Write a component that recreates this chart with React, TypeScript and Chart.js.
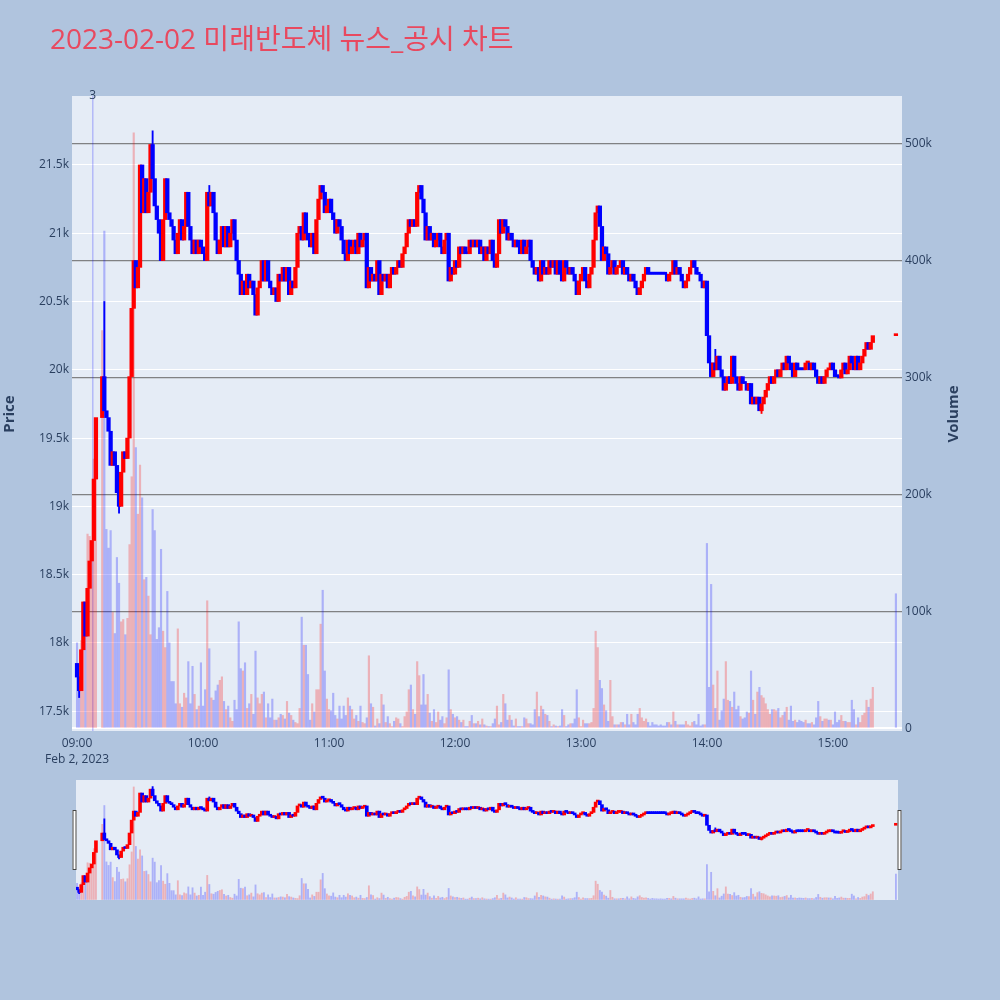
import React, { useEffect, useRef } from "react";
import { Chart, registerables } from "chart.js";

Chart.register(...registerables);

const TITLE = "2023-02-02 미래반도체 뉴스_공시 차트";
const DATE_LABEL = "Feb 2, 2023";
const PRICE_TITLE = "Price";
const VOLUME_TITLE = "Volume";

// x values are minutes after 09:00
const hourTicks = [0, 60, 120, 180, 240, 300, 360];
const hourLabels = ["09:00", "10:00", "11:00", "12:00", "13:00", "14:00", "15:00"];
const priceTicks = [17500, 18000, 18500, 19000, 19500, 20000, 20500, 21000, 21500];
const volumeTicks = [0, 100000, 200000, 300000, 400000, 500000];

// first candle's open; every later candle opens at the previous close
const firstOpen = 17850;

// one-minute closes, index = minute after 09:00 (null = no trade)
const closes: (number | null)[] = [
  17750, 17650, 17950, 18300, 18050, 18400, 18600, 18750, 19200, 19650, // 09:00
  null, null, 19950, 19700, 19650, 19550, 19300, 19400, 19300, 19100, // 09:10
  19000, 19250, 19400, 19350, 19500, 19950, 20450, 20800, 20600, 20750, // 09:20
  21500, 21150, 21400, 21150, 21300, 21650, 21400, 21200, 21100, 21000, // 09:30
  20800, 21100, 21400, 21150, 21100, 21050, 20950, 20850, 21000, 21100, // 09:40
  20950, 21050, 21300, 21050, 20950, 20850, 20950, 20850, 20950, 20900, // 09:50
  20850, 20800, 21300, 21200, 21300, 21150, 20950, 20850, 20950, 21050, // 10:00
  20900, 21050, 20900, 21000, 21100, 20950, 20800, 20700, 20550, 20650, // 10:10
  20550, 20700, 20600, 20650, 20550, 20400, 20600, 20650, 20800, 20650, // 10:20
  20800, 20650, 20600, 20550, 20600, 20500, 20700, 20650, 20750, 20650, // 10:30
  20750, 20550, 20650, 20600, 20750, 21000, 21050, 20950, 21150, 21000, // 10:40
  20950, 20900, 21000, 20850, 21100, 21250, 21350, 21300, 21150, 21200, // 10:50
  21250, 21150, 21100, 21000, 21100, 21050, 20950, 20850, 20800, 20950, // 11:00
  20850, 20900, 20950, 20850, 21000, 20900, 20950, 21000, 20600, 20750, // 11:10
  20650, 20700, 20650, 20800, 20550, 20700, 20650, 20700, 20600, 20700, // 11:20
  20750, 20700, 20750, 20800, 20750, 20850, 20900, 21000, 21100, 21050, // 11:30
  21100, 21050, 21300, 21350, 21250, 21150, 20950, 21050, 20950, 21000, // 11:40
  20900, 20950, 21000, 20900, 20850, 20950, 21000, 20650, 20750, 20700, // 11:50
  20800, 20750, 20900, 20850, 20900, 20850, 20850, 20950, 20900, 20950, // 12:00
  20900, 20950, 20850, 20900, 20800, 20900, 20850, 20950, 20800, 20750, // 12:10
  20850, 21100, 21000, 21100, 21050, 20950, 21000, 20950, 20900, 20950, // 12:20
  20900, 20850, 20950, 20850, 20900, 20950, 20800, 20750, 20700, 20750, // 12:30
  20650, 20800, 20700, 20750, 20700, 20800, 20750, 20800, 20700, 20800, // 12:40
  20700, 20650, 20800, 20750, 20700, 20750, 20700, 20650, 20550, 20650, // 12:50
  20700, 20750, 20650, 20600, 20700, 20750, 20950, 21150, 21200, 21050, // 13:00
  20800, 20900, 20850, 20700, 20750, 20800, 20700, 20750, 20750, 20800, // 13:10
  20700, 20750, 20700, 20650, 20700, 20650, 20600, 20550, 20600, 20650, // 13:20
  20700, 20750, 20700, 20700, 20700, 20700, 20700, 20700, 20700, 20700, // 13:30
  20700, 20650, 20700, 20700, 20800, 20700, 20750, 20700, 20650, 20600, // 13:40
  20650, 20700, 20750, 20800, 20750, 20700, 20700, 20650, 20600, 20650, // 13:50
  20250, 20050, 19950, 20050, 20000, 20100, 20000, 19950, 19850, 19900, // 14:00
  19950, 19900, 20100, 19950, 19900, 19850, 19950, 19900, 19900, 19850, // 14:10
  19900, 19750, 19800, 19750, 19800, 19700, 19750, 19800, 19850, 19900, // 14:20
  19950, 19900, 19950, 20000, 19950, 20000, 20050, 20000, 20100, 20050, // 14:30
  20000, 19950, 20050, 20000, 20000, 20000, 20000, 20050, 20050, 20000, // 14:40
  20050, 20000, 19950, 19900, 19950, 19900, 19950, 20000, 20000, 20050, // 14:50
  20000, 19950, 19950, 19940, 20000, 20050, 19970, 20000, 20100, 20050, // 15:00
  20000, 20100, 20000, 20050, 20100, 20150, 20200, 20150, 20200, 20250, // 15:10
  null, null, null, null, null, null, null, null, null, null, // 15:20
  20250, // 15:30 closing auction
];

// one-minute traded volume in thousands of shares, same indexing
const volumesK: (number | null)[] = [
  73, 39, 75, 108, 105, 166, 164, 155, 230, 260,
  null, null, 340, 425, 170, 154, 169, 99, 81, 146,
  124, 91, 93, 80, 94, 157, 215, 509, 240, 183,
  225, 197, 127, 129, 113, 80, 187, 169, 76, 86,
  153, 83, 69, 117, 73, 40, 40, 21, 85, 21,
  18, 30, 26, 57, 21, 53, 29, 16, 19, 56,
  19, 33, 109, 68, 26, 24, 32, 37, 41, 44,
  23, 16, 19, 9, 6, 24, 16, 91, 51, 49,
  56, 17, 21, 29, 12, 66, 26, 21, 29, 31,
  9, 21, 9, 25, 7, 7, 9, 12, 11, 8,
  23, 13, 11, 7, 5, 4, 17, 95, 71, 71,
  46, 7, 21, 14, 33, 33, 89, 118, 49, 25,
  16, 15, 30, 11, 8, 19, 8, 19, 11, 26,
  19, 16, 8, 11, 6, 19, 5, 4, 9, 62,
  21, 18, 2, 8, 4, 29, 20, 5, 10, 4,
  1.5, 6, 9, 8, 4, 1.5, 10, 14, 33, 37,
  16, 12, 57, 45, 20, 46, 20, 29, 13, 6,
  16, 5, 14, 7, 10, 4, 9, 50, 16, 12,
  9, 10, 7, 5, 7, 1.5, 1.5, 6, 11, 4,
  4, 6, 3, 8, 3, 2, 1.5, 1.5, 4, 8,
  19, 3, 5, 29, 21, 7, 11, 7, 2, 8,
  1.5, 1.5, 1.5, 9, 8, 4, 4, 3, 16, 31,
  10, 19, 16, 12, 11, 6, 1.5, 3, 2, 1.5,
  2, 16, 11, 1.5, 3, 4, 4, 8, 33, 9,
  1.5, 7, 4, 4, 4, 5, 17, 83, 69, 41,
  34, 20, 15, 6, 41, 10, 3, 3, 3, 5,
  5, 3, 12, 3, 12, 5, 3, 12, 17, 9,
  6, 8, 5, 2, 5, 3, 3, 2, 3, 2,
  2, 5, 5, 3, 14, 6, 3, 3, 3, 3,
  6, 3, 2, 5, 6, 3, 12, 2, 3, 3,
  158, 35, 123, 37, 17, 49, 7, 15, 25, 57,
  24, 23, 18, 31, 16, 19, 10, 8, 9, 14,
  13, 49, 24, 12, 31, 35, 28, 26, 21, 16,
  12, 16, 16, 15, 17, 9, 11, 14, 18, 7,
  19, 6, 7, 5, 7, 6, 5, 7, 4, 4,
  5, 3, 9, 23, 10, 6, 8, 8, 7, 7,
  3, 14, 5, 7, 11, 6, 6, 5, 5, 24,
  16, 3, 9, 5, 11, 13, 24, 18, 25, 35,
  null, null, null, null, null, null, null, null, null, null,
  115,
];

// candles whose high/low reach beyond the body
const wickMinutes = [1, 13, 20, 36, 63, 304, 326];
const wickHighs = [17750, 20500, 19100, 21750, 21350, 20150, 19750];
const wickLows = [17600, 19700, 18950, 21400, 21200, 20000, 19680];

// news marker
const newsMinute = 7.5;
const newsLabel = "3";

const UP = "#ff0000";
const DOWN = "#0000ff";
const UP_VOL = "rgba(255,0,0,0.25)";
const DOWN_VOL = "rgba(0,0,255,0.25)";
const PAGE_BG = "#b0c4de";
const PLOT_BG = "#e5ecf6";
const TEXT = "#2a3f5f";
const FONT = "'Open Sans', 'Noto Sans CJK KR', sans-serif";

const X_MIN = -2.4;
const X_MAX = 392.9;
const PRICE_MIN = 17355;
const PRICE_MAX = 22005;
const VOL_MIN = -2300;
const VOL_MAX = 540400;

function buildSeries() {
  const bodies: any[] = [];
  const bodyColors: string[] = [];
  const vols: any[] = [];
  const volColors: string[] = [];
  const dirByMinute: Record<number, boolean> = {};
  let prev = firstOpen;
  let up = false;
  closes.forEach((c, m) => {
    if (c == null) return;
    const o = prev;
    if (c > o) up = true;
    else if (c < o) up = false;
    dirByMinute[m] = up;
    bodies.push({ x: m, y: [Math.min(o, c), Math.max(o, c)] });
    bodyColors.push(up ? UP : DOWN);
    const v = volumesK[m];
    if (v != null) {
      vols.push({ x: m, y: v * 1000 });
      volColors.push(c > o ? UP_VOL : DOWN_VOL);
    }
    prev = c;
  });
  const wicks = wickMinutes.map((m, i) => ({ x: m, y: [wickLows[i], wickHighs[i]] }));
  const wickColors = wickMinutes.map((m) => (dirByMinute[m] ? UP : DOWN));
  return { bodies, bodyColors, vols, volColors, wicks, wickColors };
}

function datasets(s: ReturnType<typeof buildSeries>, bodyW: number, volW: number) {
  return [
    {
      label: "body",
      data: s.bodies,
      backgroundColor: s.bodyColors,
      barThickness: bodyW,
      minBarLength: 2,
      grouped: false,
      yAxisID: "y",
      order: 0,
    },
    {
      label: "wick",
      data: s.wicks,
      backgroundColor: s.wickColors,
      barThickness: 1.2,
      grouped: false,
      yAxisID: "y",
      order: 1,
    },
    {
      label: "volume",
      data: s.vols,
      backgroundColor: s.volColors,
      barThickness: volW,
      grouped: false,
      yAxisID: "y2",
      order: 2,
    },
  ];
}

const plotBgPlugin = {
  id: "plotBg",
  beforeDraw(chart: any) {
    const { ctx, chartArea: a } = chart;
    ctx.save();
    ctx.fillStyle = PLOT_BG;
    ctx.fillRect(a.left, a.top, a.right - a.left, a.bottom - a.top);
    ctx.restore();
  },
};

const mainDecorPlugin = {
  id: "mainDecor",
  beforeDatasetsDraw(chart: any) {
    const { ctx, chartArea: a } = chart;
    const x = chart.scales.x.getPixelForValue(newsMinute);
    ctx.save();
    ctx.strokeStyle = "rgba(0,0,255,0.22)";
    ctx.lineWidth = 1.5;
    ctx.beginPath();
    ctx.moveTo(x, a.bottom);
    ctx.lineTo(x, a.top);
    ctx.stroke();
    ctx.restore();
  },
  afterDraw(chart: any) {
    const { ctx } = chart;
    ctx.save();
    ctx.fillStyle = "#e8495f";
    ctx.font = `28px ${FONT}`;
    ctx.textAlign = "left";
    ctx.textBaseline = "middle";
    ctx.fillText(TITLE, 50, 41);

    ctx.fillStyle = TEXT;
    ctx.font = `bold 15px ${FONT}`;
    ctx.textAlign = "center";
    ctx.save();
    ctx.translate(10, 414);
    ctx.rotate(-Math.PI / 2);
    ctx.fillText(PRICE_TITLE, 0, 0);
    ctx.restore();
    ctx.save();
    ctx.translate(954, 414);
    ctx.rotate(-Math.PI / 2);
    ctx.fillText(VOLUME_TITLE, 0, 0);
    ctx.restore();

    const x = chart.scales.x.getPixelForValue(newsMinute);
    ctx.font = `12px ${FONT}`;
    ctx.textBaseline = "middle";
    ctx.fillText(newsLabel, x, 96);
    ctx.restore();
  },
};

const sliderDecorPlugin = {
  id: "sliderDecor",
  afterDraw(chart: any) {
    const { ctx, chartArea: a } = chart;
    const mid = (a.top + a.bottom) / 2;
    ctx.save();
    ctx.fillStyle = "#ffffff";
    ctx.strokeStyle = "#444444";
    ctx.lineWidth = 1;
    [a.left - 1.5, a.right + 1.5].forEach((cx) => {
      ctx.fillRect(cx - 2, mid - 30, 4, 60);
      ctx.strokeRect(cx - 2 + 0.5, mid - 30 + 0.5, 3, 59);
    });
    ctx.restore();
  },
};

export default function App() {
  const mainRef = useRef<HTMLCanvasElement>(null);
  const sliderRef = useRef<HTMLCanvasElement>(null);

  useEffect(() => {
    const s = buildSeries();
    const tickFont = { family: FONT, size: 12, lineHeight: 1.35 };

    const main = new Chart(mainRef.current!, {
      type: "bar",
      data: { datasets: datasets(s, 3.6, 1.5) as any },
      plugins: [plotBgPlugin, mainDecorPlugin],
      options: {
        animation: false,
        responsive: false,
        maintainAspectRatio: false,
        layout: { padding: { top: 96, left: 0, right: 0, bottom: 0 } },
        plugins: { legend: { display: false }, tooltip: { enabled: false }, title: { display: false } },
        scales: {
          x: {
            type: "linear",
            min: X_MIN,
            max: X_MAX,
            offset: false,
            grid: { display: false },
            border: { display: false },
            afterBuildTicks: (sc: any) => {
              sc.ticks = hourTicks.map((v) => ({ value: v }));
            },
            afterFit: (sc: any) => {
              sc.height = 39;
            },
            ticks: {
              autoSkip: false,
              maxRotation: 0,
              padding: -4,
              color: TEXT,
              font: tickFont,
              callback: (v: any) => {
                const i = hourTicks.indexOf(Number(v));
                if (i < 0) return "";
                return i === 0 ? [hourLabels[i], DATE_LABEL] : hourLabels[i];
              },
            },
          },
          y: {
            type: "linear",
            position: "left",
            min: PRICE_MIN,
            max: PRICE_MAX,
            grid: { color: "#ffffff", lineWidth: 1, drawTicks: false },
            border: { display: false },
            afterBuildTicks: (sc: any) => {
              sc.ticks = priceTicks.map((v) => ({ value: v }));
            },
            afterFit: (sc: any) => {
              sc.width = 72;
            },
            ticks: {
              padding: 3,
              color: TEXT,
              font: { family: FONT, size: 12 },
              callback: (v: any) => `${Number(v) / 1000}k`,
            },
          },
          y2: {
            type: "linear",
            position: "right",
            min: VOL_MIN,
            max: VOL_MAX,
            grid: {
              drawTicks: false,
              color: (ctx: any) => (ctx.tick && ctx.tick.value === 0 ? "#ffffff" : "rgba(110,110,110,0.85)"),
              lineWidth: (ctx: any) => (ctx.tick && ctx.tick.value === 0 ? 2 : 1.2),
            },
            border: { display: false },
            afterBuildTicks: (sc: any) => {
              sc.ticks = volumeTicks.map((v) => ({ value: v }));
            },
            afterFit: (sc: any) => {
              sc.width = 98;
            },
            ticks: {
              padding: 3,
              color: TEXT,
              font: { family: FONT, size: 12 },
              callback: (v: any) => (Number(v) === 0 ? "0" : `${Number(v) / 1000}k`),
            },
          },
        },
      } as any,
    });

    const slider = new Chart(sliderRef.current!, {
      type: "bar",
      data: { datasets: datasets(s, 3, 1.2) as any },
      plugins: [plotBgPlugin, sliderDecorPlugin],
      options: {
        animation: false,
        responsive: false,
        maintainAspectRatio: false,
        layout: { padding: { top: 10, left: 76, right: 102, bottom: 10 } },
        plugins: { legend: { display: false }, tooltip: { enabled: false } },
        scales: {
          x: { type: "linear", min: -0.5, max: 391, offset: false, display: false },
          y: { type: "linear", min: PRICE_MIN, max: PRICE_MAX, display: false },
          y2: { type: "linear", min: VOL_MIN, max: VOL_MAX, display: false },
        },
      } as any,
    });

    return () => {
      main.destroy();
      slider.destroy();
    };
  }, []);

  return (
    <div style={{ position: "absolute", left: 0, top: 0, width: 1000, height: 1000, background: PAGE_BG }}>
      <canvas
        ref={mainRef}
        width={1000}
        height={770}
        style={{ position: "absolute", left: 0, top: 0, width: 1000, height: 770 }}
      />
      <canvas
        ref={sliderRef}
        width={1000}
        height={140}
        style={{ position: "absolute", left: 0, top: 770, width: 1000, height: 140 }}
      />
    </div>
  );
}
